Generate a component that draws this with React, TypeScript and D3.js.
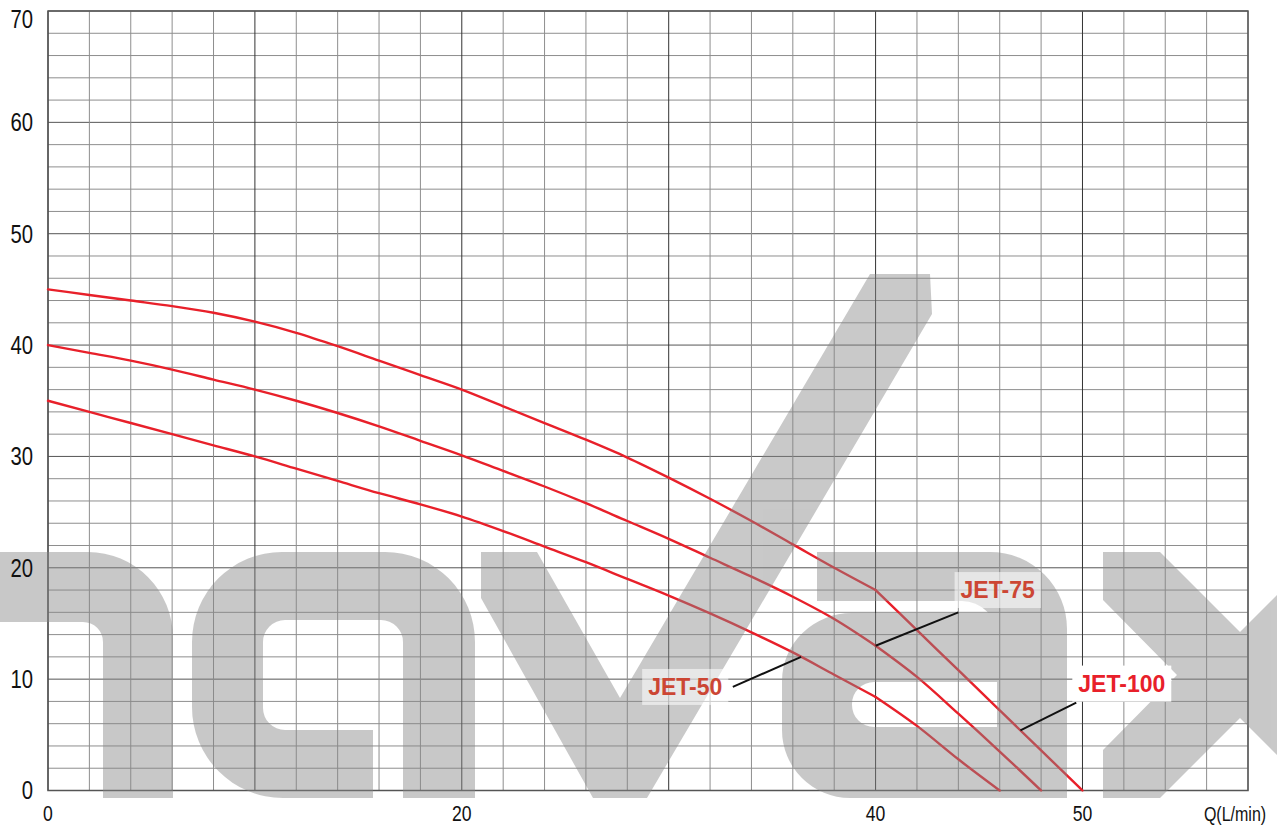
import React, { useEffect, useRef } from 'react';
import * as d3 from 'd3';

// flow (L/min), one step every 2
const flowSteps = [0, 2, 4, 6, 8, 10, 12, 14, 16, 18, 20, 22, 24, 26, 28, 30, 32, 34, 36, 38, 40, 42, 44, 46, 48, 50];

// head (m)
const jet50 = [35, 34.0, 33.0, 32.0, 31.0, 30.0, 28.9, 27.8, 26.7, 25.7, 24.6, 23.3, 21.9, 20.5, 19.0, 17.5, 15.9, 14.2, 12.4, 10.4, 8.4, 5.8, 2.8, 0];
const jet75 = [40, 39.3, 38.6, 37.8, 36.9, 36.0, 35.0, 33.9, 32.7, 31.4, 30.1, 28.7, 27.3, 25.8, 24.2, 22.6, 20.9, 19.2, 17.4, 15.4, 13.0, 10.2, 6.9, 3.5, 0];
const jet100 = [45, 44.5, 44.0, 43.5, 42.9, 42.1, 41.1, 39.9, 38.6, 37.3, 36.0, 34.5, 33.0, 31.5, 29.9, 28.1, 26.2, 24.2, 22.1, 20.0, 18.0, 14.4, 10.8, 7.2, 3.6, 0];

const seriesNames = ['JET-50', 'JET-75', 'JET-100'];
const seriesHeads = [jet50, jet75, jet100];
const breakFlow = 40; // the curves bend sharply here

const xTickLabels = [0, 20, 40, 50];
const yTickLabels = [0, 10, 20, 30, 40, 50, 60, 70];
const xTitle = 'Q(L/min)';

// callouts: label centre, leader start and the flow where the leader meets its curve
const callouts = [
  { name: 'JET-50', label: [30.8, 9.3], from: [33.1, 9.3], at: 36.4, color: '#cc4634', boxOpacity: 0.55 },
  { name: 'JET-75', label: [45.9, 18.0], from: [44.0, 16.0], at: 40, color: '#cc4634', boxOpacity: 0.55 },
  { name: 'JET-100', label: [51.9, 9.6], from: [49.7, 7.9], at: 47, color: '#e8202a', boxOpacity: 1 },
];

// background logo, in pixels
const logoPaths = [
  'M0,552 H88 A85,86 0 0 1 173,638 V798 H103 V642 A20,20 0 0 0 83,622 H0 Z',
  'M373,798 H283 A91,91 0 0 1 192,707 V642 A90,90 0 0 1 282,552 H385 A90,90 0 0 1 475,642 V798 H403 V642 A22,22 0 0 0 381,620 H285 A22,22 0 0 0 263,642 V708 A22,22 0 0 0 285,730 H373 Z',
  'M481,552 H537 L620,698 L870,274 H930 L932,314 L647,798 H593 L481,598 Z',
  'M817,552 H990 A77,77 0 0 1 1067,629 V798 H997 V636 A35,35 0 0 0 962,601 H817 Z',
  'M997,613 H852 A70,68 0 0 0 782,681 V730 A68,68 0 0 0 850,798 H997 Z M997,682 H874 A22,22 0 0 0 852,704 V705 A22,22 0 0 0 874,727 H997 Z',
  'M1103,552 H1160 L1240,632 L1277,595 V755 L1240,718 L1160,798 H1103 V750 L1177,675 L1103,600 Z',
];

const PumpCurves = () => {
  const chartRef = useRef<SVGSVGElement>(null);

  useEffect(() => {
    const W = 1277;
    const H = 829;
    const margin = { top: 11, right: 29, bottom: 38.5, left: 48 };

    const svg = d3.select(chartRef.current).attr('width', W).attr('height', H);
    svg.selectAll('*').remove();

    const x = d3.scaleLinear().domain([0, 58]).range([margin.left, W - margin.right]);
    const y = d3.scaleLinear().domain([0, 70]).range([H - margin.bottom, margin.top]);

    svg.append('rect').attr('width', W).attr('height', H).attr('fill', '#fff');

    // grid
    const grid = svg.append('g');
    grid.selectAll('line.h')
      .data(d3.range(0, 71, 2))
      .join('line')
      .attr('x1', x(0)).attr('x2', x(58))
      .attr('y1', d => y(d)).attr('y2', d => y(d))
      .attr('stroke', d => (d % 10 === 0 ? '#555' : '#8e8e8e'))
      .attr('stroke-width', 1);
    grid.selectAll('line.v')
      .data(d3.range(0, 59, 2))
      .join('line')
      .attr('y1', y(0)).attr('y2', y(70))
      .attr('x1', d => x(d)).attr('x2', d => x(d))
      .attr('stroke', d => (d % 10 === 0 ? '#333' : '#8e8e8e'))
      .attr('stroke-width', 1);
    grid.append('rect')
      .attr('x', x(0)).attr('y', y(70))
      .attr('width', x(58) - x(0)).attr('height', y(0) - y(70))
      .attr('fill', 'none').attr('stroke', '#555').attr('stroke-width', 1.5);

    // curves: smooth, but split where they bend at 40 L/min
    const line = d3.line<number[]>().x(d => x(d[0])).y(d => y(d[1])).curve(d3.curveMonotoneX);
    const series = seriesNames.map((name, i) => ({
      name,
      points: seriesHeads[i].map((h, j) => [flowSteps[j], h]),
    }));
    const pieces = series.flatMap(s => [
      s.points.filter(p => p[0] <= breakFlow),
      s.points.filter(p => p[0] >= breakFlow),
    ]);
    svg.append('g')
      .selectAll('path')
      .data(pieces)
      .join('path')
      .attr('d', d => line(d))
      .attr('fill', 'none')
      .attr('stroke', '#e8202a')
      .attr('stroke-width', 2.4)
      .attr('stroke-linejoin', 'round')
      .attr('stroke-linecap', 'round');

    // logo watermark
    svg.append('g')
      .attr('opacity', 0.45)
      .selectAll('path')
      .data(logoPaths)
      .join('path')
      .attr('d', d => d)
      .attr('fill', '#878787')
      .attr('fill-rule', 'evenodd');

    // leader lines
    const headAt = (name: string, q: number) => {
      const s = series.find(d => d.name === name)!;
      return d3.scaleLinear().domain(s.points.map(p => p[0])).range(s.points.map(p => p[1]))(q);
    };
    svg.append('g')
      .selectAll('line')
      .data(callouts)
      .join('line')
      .attr('x1', d => x(d.from[0])).attr('y1', d => y(d.from[1]))
      .attr('x2', d => x(d.at)).attr('y2', d => y(headAt(d.name, d.at)))
      .attr('stroke', '#111')
      .attr('stroke-width', 2);

    // callout labels
    const labels = svg.append('g');
    callouts.forEach(c => {
      const g = labels.append('g');
      const box = g.append('rect');
      const t = g.append('text')
        .attr('x', x(c.label[0]))
        .attr('y', y(c.label[1]))
        .attr('text-anchor', 'middle')
        .attr('dominant-baseline', 'central')
        .style('font-family', '"Liberation Sans", Arial, sans-serif')
        .style('font-weight', 'bold')
        .style('font-size', '23px')
        .attr('fill', c.color)
        .text(c.name);
      const bb = (t.node() as SVGTextElement).getBBox();
      box.attr('x', bb.x - 6).attr('y', bb.y - 5)
        .attr('width', bb.width + 12).attr('height', bb.height + 10)
        .attr('fill', '#fff').attr('opacity', c.boxOpacity);
    });

    // axis labels
    const font = '"Liberation Sans", Arial, sans-serif';
    svg.append('g')
      .selectAll('text')
      .data(yTickLabels)
      .join('text')
      .attr('transform', d => `translate(33,${Math.max(y(d), 19)}) scale(0.78,1)`)
      .attr('text-anchor', 'end')
      .attr('dominant-baseline', 'central')
      .style('font-family', font)
      .style('font-size', '26px')
      .attr('fill', '#111')
      .text(d => d);
    svg.append('g')
      .selectAll('text')
      .data(xTickLabels)
      .join('text')
      .attr('transform', d => `translate(${x(d)},${H - 16}) scale(0.8,1)`)
      .attr('text-anchor', 'middle')
      .attr('dominant-baseline', 'central')
      .style('font-family', font)
      .style('font-size', '22px')
      .attr('fill', '#111')
      .text(d => d);
    svg.append('text')
      .attr('transform', `translate(1235,${H - 15}) scale(0.8,1)`)
      .attr('text-anchor', 'middle')
      .attr('dominant-baseline', 'central')
      .style('font-family', font)
      .style('font-size', '20px')
      .attr('fill', '#111')
      .text(xTitle);
  }, []);

  return <svg ref={chartRef} style={{ position: 'absolute', left: 0, top: 0, display: 'block' }}></svg>;
};

export default function App() {
  return <PumpCurves />;
}
